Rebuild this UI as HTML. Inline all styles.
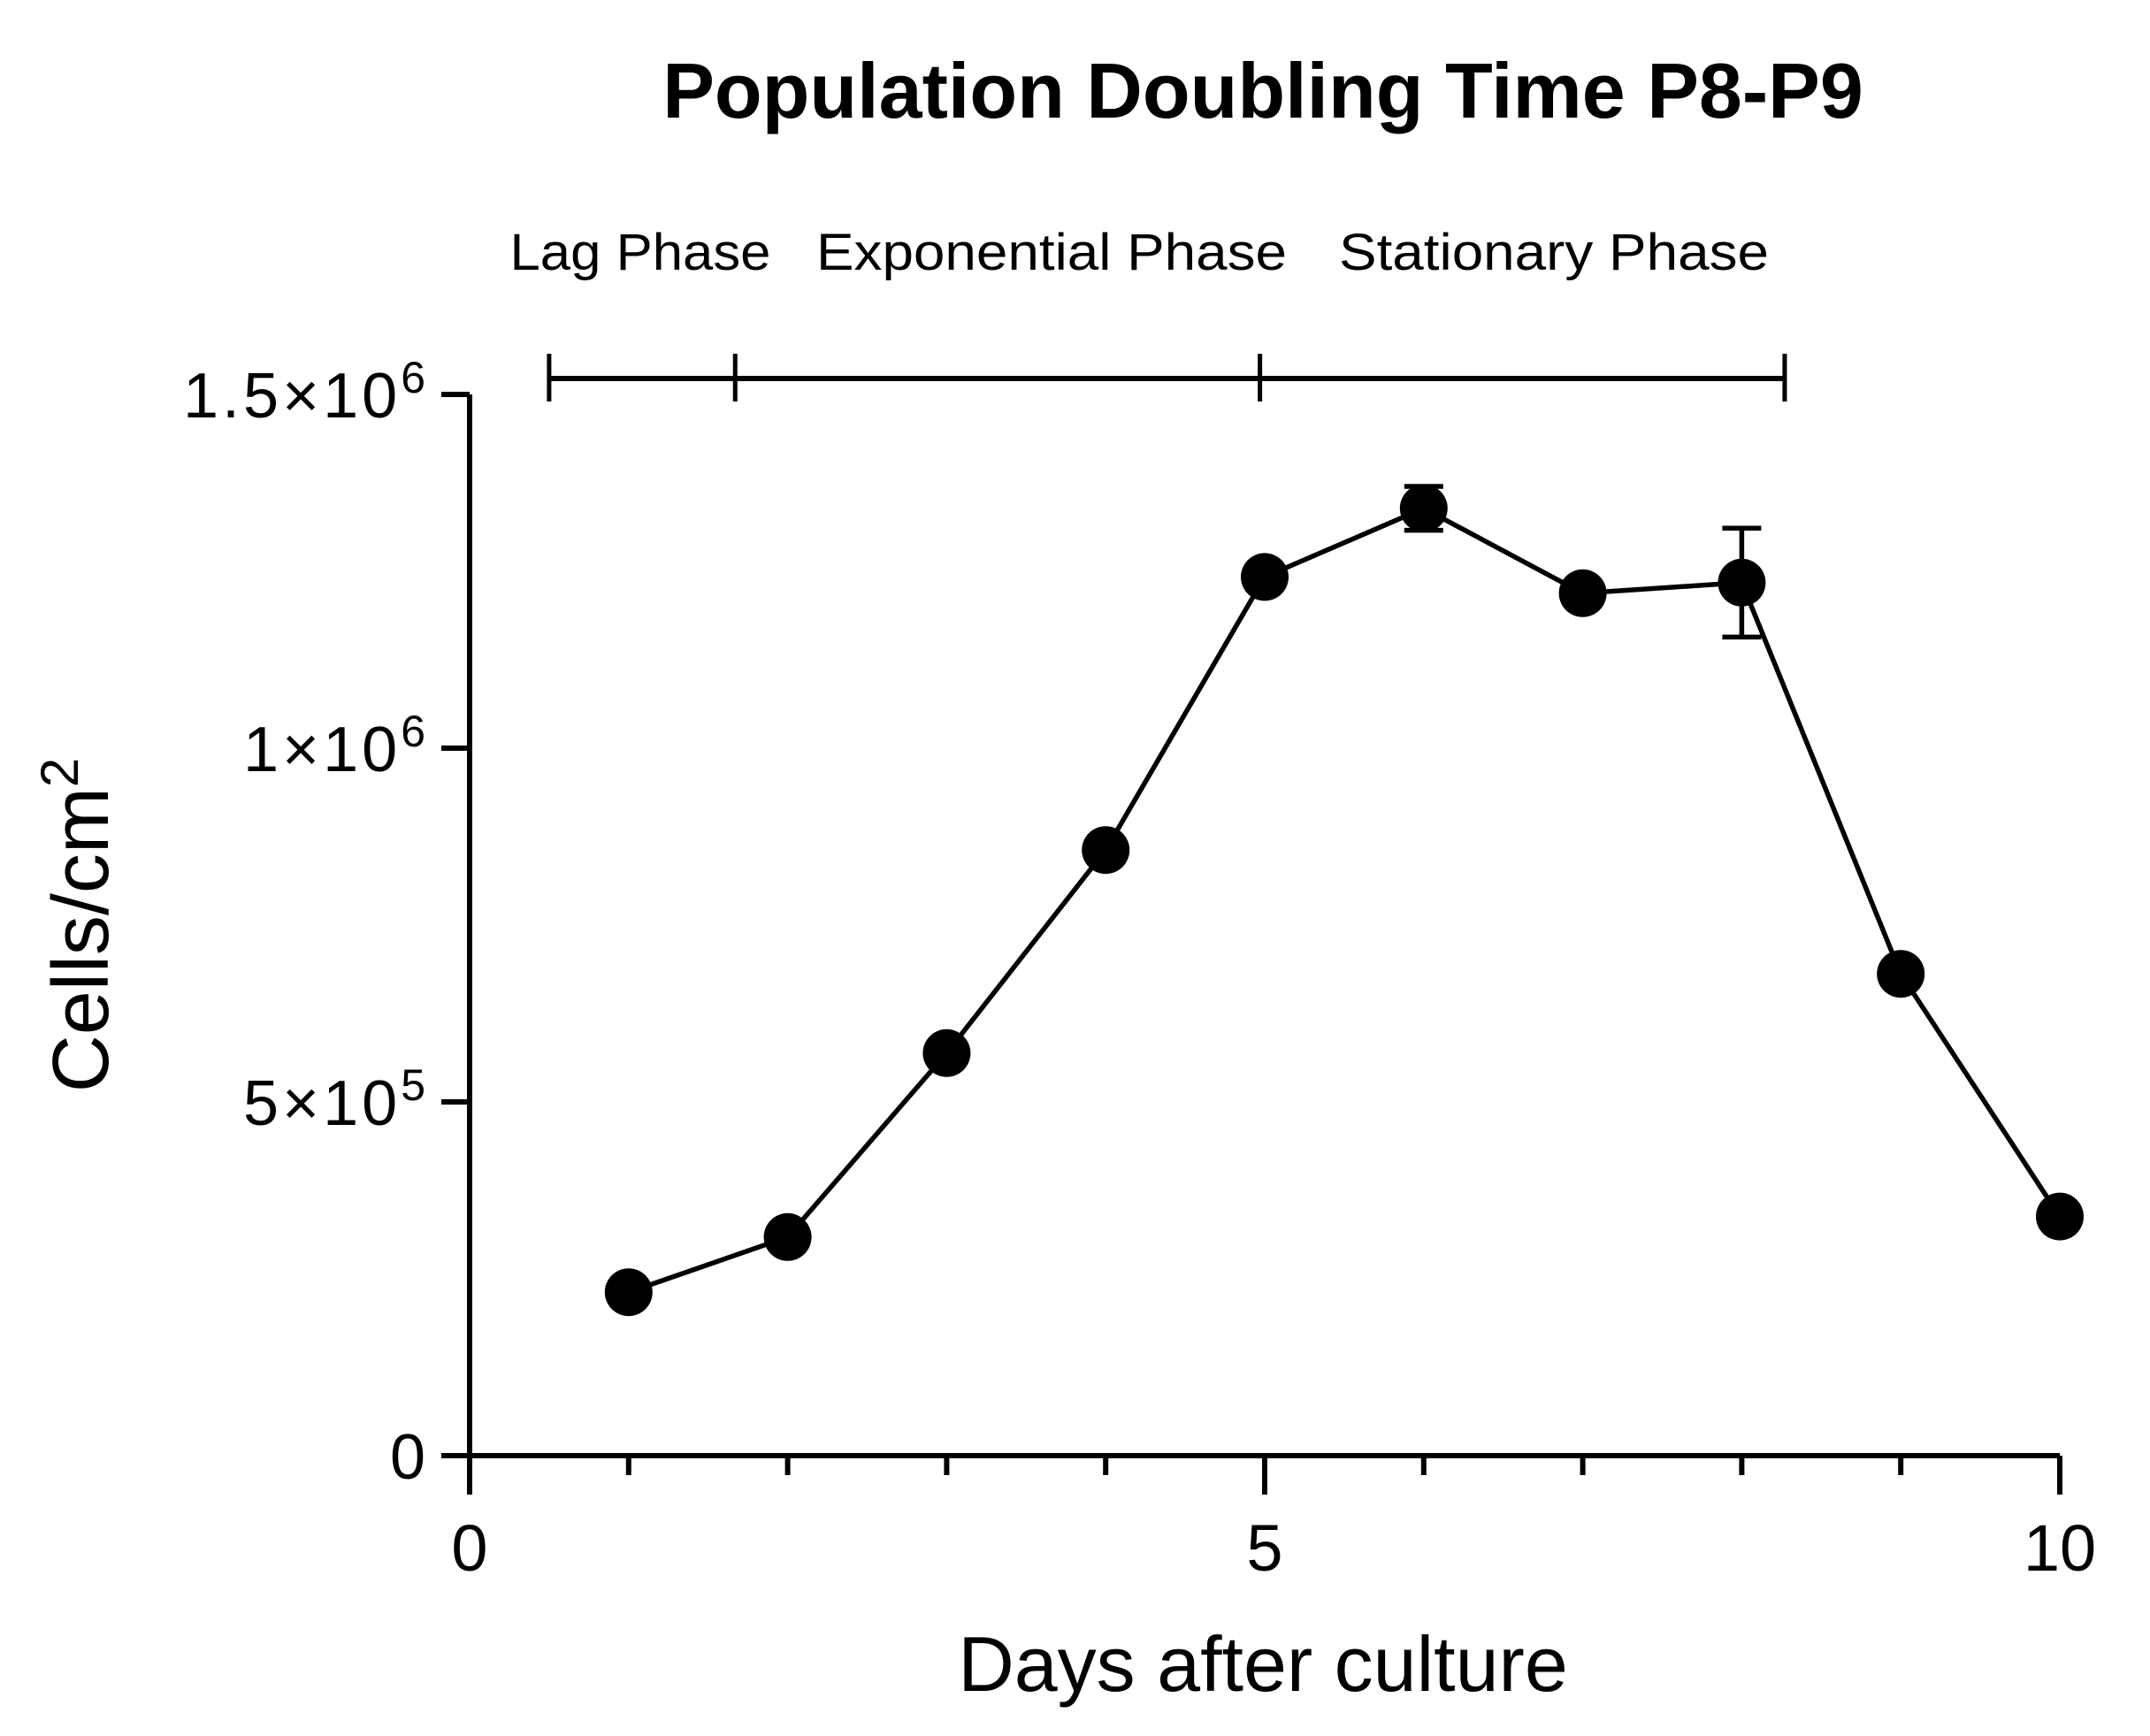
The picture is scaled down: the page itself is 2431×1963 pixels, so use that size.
<!DOCTYPE html>
<html><head><meta charset="utf-8"><style>
html,body{margin:0;padding:0;background:#fff;}
svg{display:block;font-family:"Liberation Sans",Arial,sans-serif;}
</style></head><body>
<svg id="chart" width="2431" height="1963" viewBox="0 0 2431 1963" xmlns="http://www.w3.org/2000/svg">
<rect width="2431" height="1963" fill="#fff"/>
<text x="1428" y="133" text-anchor="middle" font-size="88" font-weight="bold">Population Doubling Time P8-P9</text>
<g id="phases"></g>
<g id="axes"></g>
<g id="series"></g>
<text x="1428" y="1912" text-anchor="middle" font-size="88">Days after culture</text>
<text transform="translate(122,1046) rotate(-90)" text-anchor="middle" font-size="90">Cells/cm<tspan dy="-34" font-size="60">2</tspan></text>
</svg>
<script>
const days = [1,2,3,4,5,6,7,8,9,10];
const cells = [231000,309000,569000,856000,1242000,1339000,1219000,1234000,681000,338000];
const errs = [0,0,0,0,0,31000,0,77000,0,0];
const yTicks = [0,500000,1000000,1500000];
const yTickLabels = [["0",""],["5\u00d710","5"],["1\u00d710","6"],["1.5\u00d710","6"]];
const xMajor = [0,5,10];
const xMinor = [1,2,3,4,6,7,8,9];
const phaseNames = ["Lag Phase","Exponential Phase","Stationary Phase"];
const phaseBounds = [0.5,1.67,4.97,8.27];

const NS="http://www.w3.org/2000/svg";
const X0=531,X1=2329,Y0=1646,Y1=446;
function sx(d){return X0+(d-0)/(10-0)*(X1-X0);}
function sy(v){return Y0-(v-0)/(1500000-0)*(Y0-Y1);}
function mk(tag,attrs,parent){const e=document.createElementNS(NS,tag);for(const k in attrs)e.setAttribute(k,attrs[k]);parent.appendChild(e);return e;}

const axes=document.getElementById('axes');
let l=mk('line',{x1:X0,y1:Y1,x2:X0,y2:Y0+44,stroke:'#000','stroke-width':6},axes);


l=mk('line',{x1:X0-32,y1:Y0,x2:X1,y2:Y0,stroke:'#000','stroke-width':6},axes);


yTicks.forEach((v,i)=>{
  const t=mk('line',{x1:X0-32,y1:sy(v),x2:X0,y2:sy(v),stroke:'#000','stroke-width':6},axes);
  
  
  const tx=mk('text',{x:X0-46,y:sy(v)+26,'text-anchor':'end','font-size':72,'letter-spacing':4},axes);
  
  
  tx.appendChild(document.createTextNode(yTickLabels[i][0]));
  if(yTickLabels[i][1]){const s=mk('tspan',{dy:-28,'font-size':50},tx);s.textContent=yTickLabels[i][1];}
});
xMajor.forEach(d=>{
  const t=mk('line',{x1:sx(d),y1:Y0,x2:sx(d),y2:Y0+44,stroke:'#000','stroke-width':6},axes);
  
  
  const tx=mk('text',{x:sx(d),y:Y0+130,'text-anchor':'middle','font-size':74},axes);
  
  
  tx.textContent=String(d);
});
xMinor.forEach(d=>{
  const t=mk('line',{x1:sx(d),y1:Y0,x2:sx(d),y2:Y0+22,stroke:'#000','stroke-width':6},axes);
  
  
});

const ph=document.getElementById('phases');
const BY=428;
l=mk('line',{x1:sx(phaseBounds[0]),y1:BY,x2:sx(phaseBounds[3]),y2:BY,stroke:'#000','stroke-width':6},ph);


phaseBounds.forEach(b=>{
  const t=mk('line',{x1:sx(b),y1:400,x2:sx(b),y2:454,stroke:'#000','stroke-width':5},ph);
  
  
});
const phaseLabelCenters=[724,1189,1757];
const phaseLabelWidths=[295,532,486];
phaseNames.forEach((n,i)=>{
  const tx=mk('text',{x:phaseLabelCenters[i],y:305,'text-anchor':'middle','font-size':58,textLength:phaseLabelWidths[i],lengthAdjust:'spacingAndGlyphs'},ph);
  
  
  tx.textContent=n;
});

const ser=document.getElementById('series');
const pts=days.map((d,i)=>sx(d)+','+sy(cells[i])).join(' ');
const pl=mk('polyline',{points:pts,fill:'none',stroke:'#000','stroke-width':5.5,'stroke-linejoin':'round'},ser);


days.forEach((d,i)=>{
  if(errs[i]>0){
    const cx=sx(d),yt=sy(cells[i]+errs[i]),yb=sy(cells[i]-errs[i]);
    const g=mk('g',{stroke:'#000','stroke-width':5.5},ser);
    
    
    mk('line',{x1:cx,y1:yt,x2:cx,y2:yb},g);
    mk('line',{x1:cx-22,y1:yt,x2:cx+22,y2:yt},g);
    mk('line',{x1:cx-22,y1:yb,x2:cx+22,y2:yb},g);
  }
  const c=mk('circle',{cx:sx(d),cy:sy(cells[i]),r:27,fill:'#000'},ser);
  
  
});
</script>
</body></html>
